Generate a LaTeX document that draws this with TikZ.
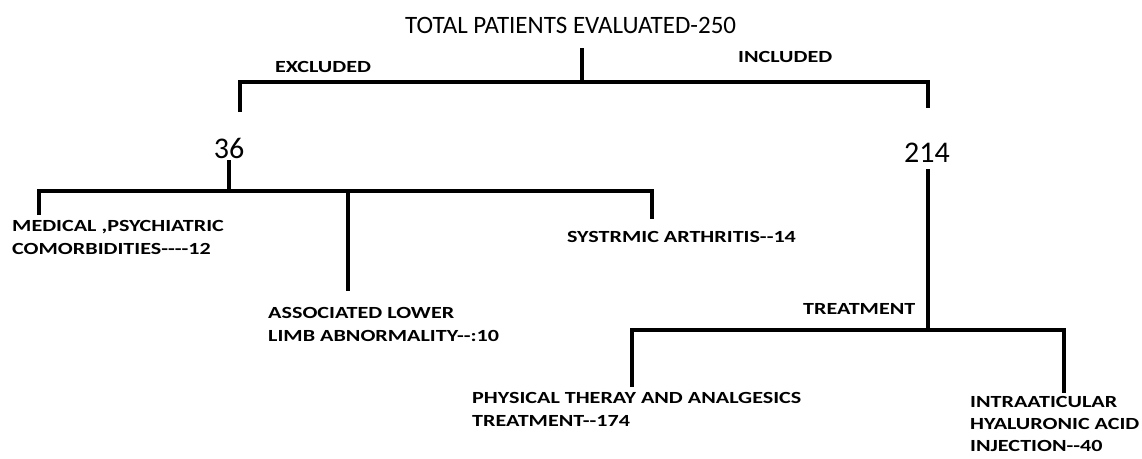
\documentclass[tikz,border=0pt]{standalone}
\usepackage{fontspec}
\setmainfont{Carlito}
\newfontfamily\lblfont{Carlito}[FakeStretch=1.3]
\usetikzlibrary{positioning}

\tikzset{
  branch/.style = {line width=3.4pt},
  lbl/.style = {font=\lblfont\bfseries\fontsize{17}{23}\selectfont, anchor=west, align=left, inner sep=0pt},
  count/.style = {font=\fontsize{30}{34}\selectfont, inner sep=0pt},
}

\begin{document}
\begin{tikzpicture} [x=1pt, y=-1pt]
\useasboundingbox (0,0) rectangle (1142,458);

\node (total) [anchor=west, inner sep=0pt, font=\fontsize{25}{30}\selectfont] at (405,25) {TOTAL PATIENTS EVALUATED-250};
\node (excl) [lbl] at (275,67) {EXCLUDED};
\node (incl) [lbl] at (738,57) {INCLUDED};

\coordinate (top) at (582,48);
\coordinate (split) at (582,82);
\coordinate (exL) at (240,82);
\coordinate (exLd) at (240,112);
\coordinate (inR) at (928,82);
\coordinate (inRd) at (928,108);

\draw [branch] (top) -- (split);
\draw [branch] (exLd) -- (exL) -- (inR) -- (inRd);

% excluded
\node (n36) [count] at (229,148) {36};
\coordinate (exTop) at (229,160);
\coordinate (exMid) at (229,191);
\coordinate (exA) at (39,191);
\coordinate (exAd) at (39,215);
\coordinate (exB) at (348,191);
\coordinate (exBd) at (348,291);
\coordinate (exC) at (652,191);
\coordinate (exCd) at (652,219);

\draw [branch] (exTop) -- (exMid);
\draw [branch] (exAd) -- (exA) -- (exC) -- (exCd);
\draw [branch] (exB) -- (exBd);

\node (medical) [lbl] at (12,237) {MEDICAL ,PSYCHIATRIC\\COMORBIDITIES{-}{-}{-}{-}12};
\node (lowlimb) [lbl] at (268,324) {ASSOCIATED LOWER\\LIMB ABNORMALITY{-}{-}:10};
\node (arthr) [lbl] at (567,237) {SYSTRMIC ARTHRITIS{-}{-}14};

% included
\node (n214) [count] at (927,153) {214};
\coordinate (inTop) at (928,169);
\coordinate (inMid) at (928,330);
\coordinate (trA) at (632,330);
\coordinate (trAd) at (632,387);
\coordinate (trB) at (1064,330);
\coordinate (trBd) at (1064,393);

\draw [branch] (inTop) -- (inMid);
\draw [branch] (trAd) -- (trA) -- (trB) -- (trBd);

\node (treat) [lbl] at (803,309) {TREATMENT};
\node (physio) [lbl] at (472,409) {PHYSICAL THERAY AND ANALGESICS\\TREATMENT{-}{-}174};
\node (inject) [lbl, font=\lblfont\bfseries\fontsize{17}{22}\selectfont] at (970,424) {INTRAATICULAR\\HYALURONIC ACID\\INJECTION{-}{-}40};
\end{tikzpicture}
\end{document}
